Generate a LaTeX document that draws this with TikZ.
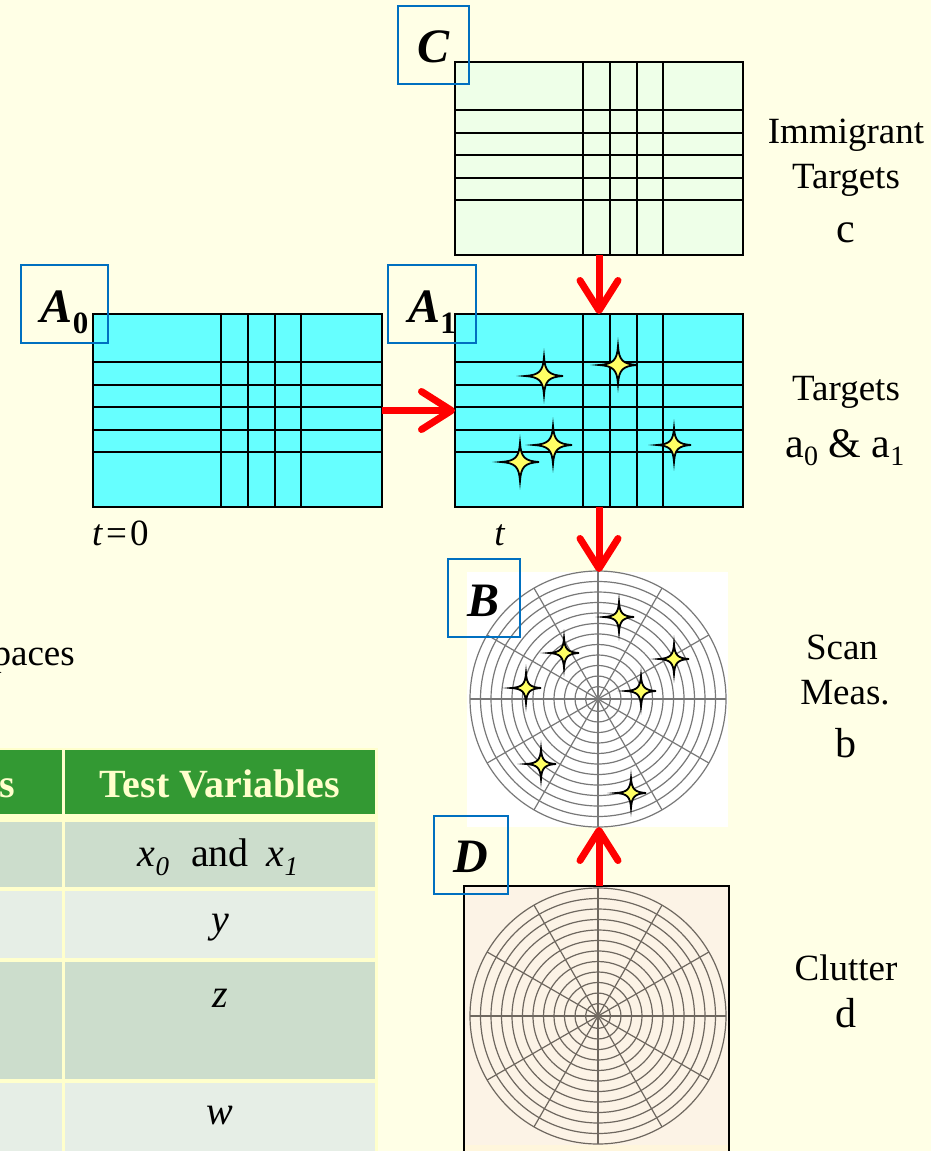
\documentclass[tikz,border=0pt]{standalone}
\usepackage{fontspec}
\setmainfont{Liberation Serif}
\usetikzlibrary{arrows.meta,calc}
\definecolor{bgc}{RGB}{255,255,230}
\definecolor{cyanf}{RGB}{102,255,255}
\definecolor{cfill}{RGB}{238,255,232}
\definecolor{lblue}{RGB}{0,112,192}
\definecolor{hdr}{RGB}{51,153,51}
\definecolor{cream}{RGB}{255,255,204}
\definecolor{rowa}{RGB}{204,221,204}
\definecolor{rowb}{RGB}{230,238,230}
\definecolor{gapc}{RGB}{255,255,204}
\definecolor{starY}{RGB}{255,255,100}
\definecolor{ringB}{RGB}{120,120,120}
\definecolor{ringD}{RGB}{110,103,95}
\definecolor{dfill}{RGB}{252,243,230}
\definecolor{dstrip}{RGB}{255,246,220}
\newcommand\mygridlines[1]{%
  \foreach \dx in {128,155,182,208}
    \draw[gline] ($(#1.north west)+(\dx,0)$) -- ($(#1.south west)+(\dx,0)$);
  \foreach \dy in {48,71,93,116,138}
    \draw[gline] ($(#1.north west)+(0,\dy)$) -- ($(#1.north east)+(0,\dy)$);}
\newcommand\mypolar[3]{%
  \foreach \k in {0,...,11}{
    \pgfmathsetmacro\rr{128-10.5*\k}
    \draw[#3, line width=1.2pt] (#1,#2) circle[radius=\rr pt];}
  \foreach \a in {0,30,...,330}
    \draw[#3, line width=1.2pt] (#1,#2) -- ++(\a:128);}
\newcommand\fourstar[3]{%
  \draw[starsty, shift={(#1,#2)}, scale=#3]
    (1,0) .. controls (0.25,0.05) and (0.05,0.25) .. (0,1)
    .. controls (-0.05,0.25) and (-0.25,0.05) .. (-1,0)
    .. controls (-0.25,-0.05) and (-0.05,-0.25) .. (0,-1)
    .. controls (0.05,-0.25) and (0.25,-0.05) .. cycle;}
\begin{document}
\begin{tikzpicture}[x=1pt,y=-1pt,
  gridbox/.style={draw=black, line width=2pt, inner sep=0pt, outer sep=0pt,
    minimum width=288pt, minimum height=193pt},
  gline/.style={draw=black, line width=2pt},
  lbox/.style={draw=lblue, line width=2pt, inner sep=0pt, outer sep=0pt,
    minimum height=78pt, text height=36pt, text depth=0pt,
    font=\fontsize{48}{48}\selectfont\bfseries\itshape},
  redarr/.style={draw=red, line width=7pt,
    -{Straight Barb[length=30pt,width=38pt,round]}},
  starsty/.style={fill=starY, draw=black, line width=1.8pt},
  lbl/.style={font=\fontsize{37}{40}\selectfont, anchor=base, inner sep=0pt},
  big/.style={font=\fontsize{42}{44}\selectfont, anchor=base, inner sep=0pt},
  tbl/.style={font=\fontsize{40}{42}\selectfont, anchor=base, inner sep=0pt}]
\useasboundingbox (0,0) rectangle (931,1151);
\fill[bgc] (0,0) rectangle (931,1151);
\begin{scope}
\clip (0,0) rectangle (931,1151);
% left text
\node[lbl, anchor=base east] (spaces) at (75,665) {paces};
% table
\fill[gapc] (-5,748) rectangle (378,1160);
\fill[hdr] (-5,750) rectangle (62,814);
\fill[hdr] (65,750) rectangle (375,814);
\fill[rowa] (-5,822) rectangle (62,887);
\fill[rowa] (65,822) rectangle (375,887);
\fill[rowb] (-5,891) rectangle (62,958);
\fill[rowb] (65,891) rectangle (375,958);
\fill[rowa] (-5,962) rectangle (62,1079);
\fill[rowa] (65,962) rectangle (375,1079);
\fill[rowb] (-5,1083) rectangle (62,1160);
\fill[rowb] (65,1083) rectangle (375,1160);
\node[tbl, anchor=base east, text=cream] (hs) at (15,797) {\bfseries s};
\node[tbl, text=cream] (hv) at (220,797) {\bfseries Test Variables};
\node[tbl] (rx) at (218,866) {\textit{x}\lower9pt\hbox{\fontsize{27}{27}\selectfont\itshape 0}\hspace{22pt}and\hspace{18pt}\textit{x}\lower9pt\hbox{\fontsize{27}{27}\selectfont\itshape 1}};
\node[tbl] (ry) at (220,932) {\itshape y};
\node[tbl] (rz) at (220,1007) {\itshape z};
\node[tbl] (rw) at (220,1124) {\itshape w};
% grids
\node[gridbox, fill=cfill] (gC) at (599,158.5) {};
\mygridlines{gC}
\node[gridbox, fill=cyanf, minimum width=289pt] (gA0) at (237.5,410.5) {};
\mygridlines{gA0}
\node[gridbox, fill=cyanf] (gA1) at (599,410.5) {};
\mygridlines{gA1}
\fourstar{544}{376}{19}
\fourstar{618}{365}{19}
\fourstar{553}{445}{19}
\fourstar{520}{462}{19}
\fourstar{674}{445}{17}
% B scan
\node[fill=white, inner sep=0pt, outer sep=0pt, minimum width=261pt, minimum height=255pt] (B) at (597.5,699.5) {};
\mypolar{598}{699}{ringB}
\fourstar{619}{617}{15}
\fourstar{564}{653}{15}
\fourstar{674}{659}{15}
\fourstar{526}{688}{15}
\fourstar{641}{691}{15}
\fourstar{541}{764}{15}
\fourstar{631}{793}{15}
% D clutter
\node[draw=black, line width=2pt, fill=dfill, inner sep=0pt, outer sep=0pt, minimum width=265pt, minimum height=274pt] (D) at (596.5,1023) {};
\fill[dstrip] (465,1145) rectangle (728,1160);
\mypolar{598}{1016}{ringD}
% arrows
\draw[redarr] (gA0.east) -- (gA1.west);
\draw[redarr] (gC.south) -- (gA1.north);
\draw[redarr] (gA1.south) -- (gA1.south |- B.north);
\draw[redarr] (D.north -| gA1.south) -- (gA1.south |- B.south);
% label boxes
\node[lbox, minimum width=71pt] (lC) at (433.5,44.5) {C};
\node[lbox, minimum width=87pt] (lA0) at (64.5,304) {A\lower11pt\hbox{\fontsize{31}{31}\selectfont\bfseries\upshape 0}};
\node[lbox, minimum width=88pt] (lA1) at (432,304) {A\lower11pt\hbox{\fontsize{31}{31}\selectfont\bfseries\upshape 1}};
\node[lbox, minimum width=72pt] (lB) at (484,598) {B};
\node[lbox, minimum width=74pt] (lD) at (471,854.5) {D};
% time labels
\node[lbl, anchor=base west] (t0) at (92,545) {\textit{t}\kern3pt=\kern3pt0};
\node[lbl] (t1) at (500,545) {\textit{t}};
% right labels
\node[lbl] (im1) at (846,143) {Immigrant};
\node[lbl] (im2) at (846,188) {Targets};
\node[big] (im3) at (846,242) {c};
\node[lbl] (ta1) at (846,400) {Targets};
\node[big] (ta2) at (845,457) {a\lower8pt\hbox{\fontsize{28}{28}\selectfont 0} \& a\lower8pt\hbox{\fontsize{28}{28}\selectfont 1}};
\node[lbl] (sc1) at (842,659) {Scan};
\node[lbl] (sc2) at (845,704) {Meas.};
\node[big] (sc3) at (846,757) {b};
\node[lbl] (cl1) at (846,980) {Clutter};
\node[big] (cl2) at (846,1027) {d};
\end{scope}
\end{tikzpicture}
\end{document}
